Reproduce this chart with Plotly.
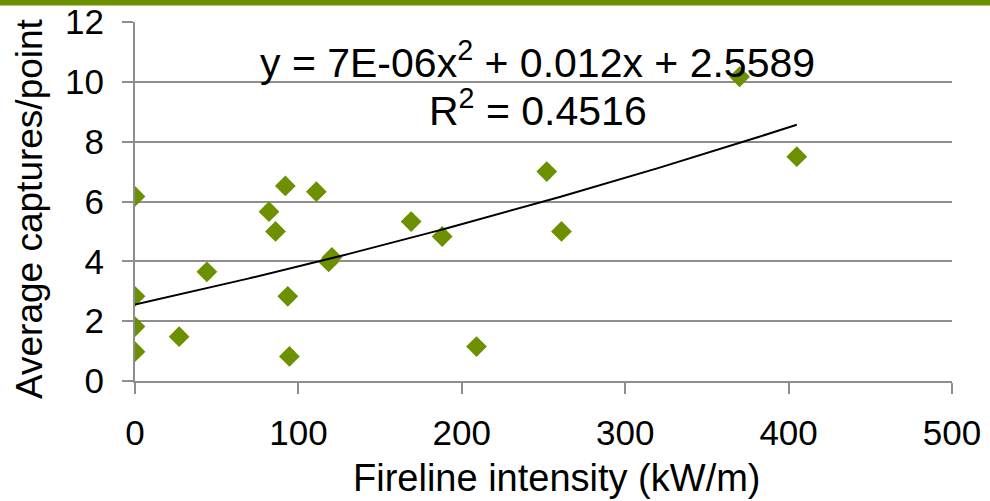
import numpy as np
import plotly.graph_objects as go

# Fireline intensity (kW/m) and average captures per point
intensity = [0, 0, 0, 0, 27, 44, 82, 86, 92, 93.5, 94.5, 111, 118.5, 120.5,
             169, 188, 209, 252, 261, 370, 405]
captures = [6.17, 2.83, 1.82, 0.98, 1.48, 3.65, 5.66, 5.0, 6.52, 2.83, 0.82,
            6.33, 3.98, 4.13, 5.33, 4.83, 1.15, 7.0, 5.0, 10.17, 7.5]

# Polynomial trendline coefficients (order 2)
coef_a, coef_b, coef_c = 7e-06, 0.012, 2.5589
r_squared = 0.4516

x_ticks = [0, 100, 200, 300, 400, 500]
y_ticks = [0, 2, 4, 6, 8, 10, 12]
x_title = "Fireline intensity (kW/m)"
y_title = "Average captures/point"

GREEN = "#6C9000"
GRID = "#8E8E8E"
FONT = "Liberation Sans, Arial, sans-serif"

# page geometry (px)
W, H = 990, 501
ML, MR, MT, MB = 60, 38, 21.5, 119.5
AREA_W = W - ML - MR          # paper width
PLOT_H = H - MT - MB          # plot-area height
X0_PX = 135                   # left edge of the data area
LABEL_PX = 104                # where the y tick labels hang from


def px_x(px):
    return (px - ML) / AREA_W


def px_y(py):
    return (H - MB - py) / PLOT_H


trend_x = np.linspace(0, max(intensity), 200)
trend_y = coef_a * trend_x ** 2 + coef_b * trend_x + coef_c

fig = go.Figure()
fig.add_trace(go.Scatter(
    x=intensity, y=captures, mode="markers",
    marker=dict(symbol="diamond", size=16, color=GREEN, line=dict(width=0)),
    showlegend=False, hoverinfo="x+y",
))
fig.add_trace(go.Scatter(
    x=trend_x, y=trend_y, mode="lines",
    line=dict(color="black", width=2),
    showlegend=False, hoverinfo="skip",
))

axis_common = dict(range=[0, 12], tickvals=y_ticks, automargin=False)

fig.update_layout(
    width=W, height=H,
    margin=dict(l=ML, r=MR, t=MT, b=MB),
    paper_bgcolor="white", plot_bgcolor="white",
    font=dict(family=FONT, size=35, color="black"),
    xaxis=dict(
        domain=[px_x(X0_PX), 1],
        range=[0, 500], tickvals=x_ticks, ticktext=[str(v) for v in x_ticks],
        showgrid=False, zeroline=False, automargin=False,
        showline=True, linecolor=GRID, linewidth=2,
        ticks="outside", ticklen=11, tickwidth=2, tickcolor=GRID,
        ticklabelstandoff=9,
        tickfont=dict(size=35),
    ),
    # gridlines, axis line and tick marks
    yaxis=dict(
        **axis_common, showticklabels=False,
        showgrid=True, gridcolor=GRID, gridwidth=2, zeroline=False,
        showline=True, linecolor=GRID, linewidth=2,
        ticks="outside", ticklen=11, tickwidth=2, tickcolor=GRID,
    ),
    # tick labels, set a little further out
    yaxis2=dict(
        **axis_common, ticktext=[str(v) for v in y_ticks],
        overlaying="y", anchor="free", position=px_x(LABEL_PX), side="left",
        showgrid=False, zeroline=False, showline=False, ticks="",
        tickfont=dict(size=35),
    ),
    shapes=[dict(
        type="rect", xref="paper", yref="paper",
        x0=-0.3, x1=1.2, y0=px_y(5), y1=px_y(-2),
        fillcolor=GREEN, line=dict(width=0), layer="above",
    )],
    annotations=[
        dict(text=f"y = 7E-06x<sup>2</sup> + {coef_b}x + {coef_c}",
             xref="paper", yref="paper", x=px_x(537), y=px_y(60),
             showarrow=False, xanchor="center", yanchor="middle",
             font=dict(size=41)),
        dict(text=f"R<sup>2</sup> = {r_squared}",
             xref="paper", yref="paper", x=px_x(538), y=px_y(108),
             showarrow=False, xanchor="center", yanchor="middle",
             font=dict(size=41)),
        # axis titles
        dict(text=x_title, xref="paper", yref="paper",
             x=px_x(557), y=px_y(479),
             showarrow=False, xanchor="center", yanchor="middle",
             font=dict(size=38)),
        dict(text=y_title, xref="paper", yref="paper",
             x=px_x(30), y=px_y(209),
             showarrow=False, xanchor="center", yanchor="middle",
             textangle=-90, font=dict(size=37)),
    ],
)

# empty trace so the label axis is drawn
fig.add_trace(go.Scatter(x=[None], y=[None], yaxis="y2", showlegend=False,
                         hoverinfo="skip"))

fig.write_html("out.html")
